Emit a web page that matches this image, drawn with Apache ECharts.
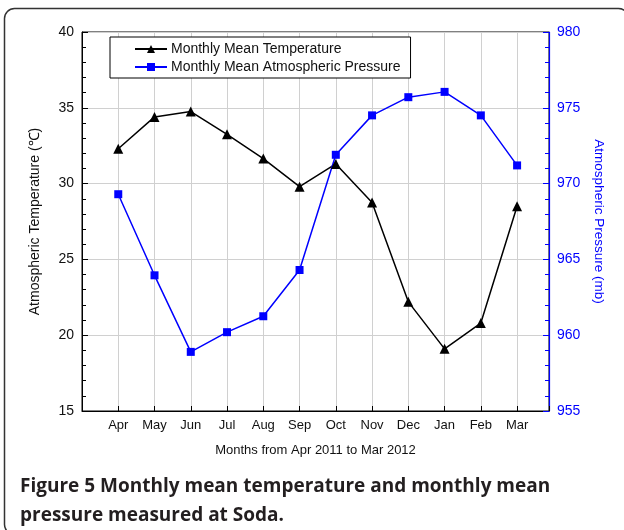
<!DOCTYPE html>
<html>
<head>
<meta charset="utf-8">
<script src="https://cdn.jsdelivr.net/npm/echarts@6/dist/echarts.min.js"></script>
<style>html,body{margin:0;padding:0;background:#fff;}#c{width:624px;height:530px;}</style>
</head>
<body>
<div id="c"></div>
<script>
var months = ['Apr','May','Jun','Jul','Aug','Sep','Oct','Nov','Dec','Jan','Feb','Mar'];
var temperature = [32.3, 34.4, 34.75, 33.25, 31.65, 29.8, 31.3, 28.75, 22.2, 19.1, 20.8, 28.5];
var pressure = [969.3, 963.95, 958.9, 960.2, 961.25, 964.3, 971.9, 974.5, 975.7, 976.05, 974.5, 971.2];
var tempTicks = [15, 20, 25, 30, 35, 40];
var pressTicks = [955, 960, 965, 970, 975, 980];

function pairs(arr){ return arr.map(function(v,i){ return [i+1, v]; }); }

var FONT = '"Liberation Sans", Arial, sans-serif';
var chart = echarts.init(document.getElementById('c'), null, {renderer:'canvas'});
chart.setOption({
  animation: false,
  backgroundColor: '#fff',
  grid: {left: 82, right: 75, top: 32, bottom: 119, show: true, borderColor: '#000', borderWidth: 1, backgroundColor: 'transparent'},
  legend: {
    left: 110, top: 37, orient: 'vertical',
    padding: [5, 10, 4, 24], itemGap: 4, itemWidth: 32, itemHeight: 10,
    borderColor: '#000', borderWidth: 1, backgroundColor: '#fff',
    textStyle: {fontFamily: FONT, fontSize: 14, color: '#111', padding: [0,0,0,-1]},
    data: ['Monthly Mean Temperature', 'Monthly Mean Atmospheric Pressure']
  },
  xAxis: {
    type: 'value', min: 0, max: 12.88, interval: 1,
    name: 'Months from Apr 2011 to Mar 2012', nameLocation: 'middle', nameGap: 33,
    nameTextStyle: {fontFamily: FONT, fontSize: 13, color: '#111'},
    axisLine: {lineStyle: {color: '#000', width: 1}},
    axisTick: {inside: true, length: 5, lineStyle: {color: '#000'}},
    axisLabel: {fontFamily: FONT, fontSize: 13, color: '#111', margin: 8,
      formatter: function(v){ var i = Math.round(v); return (Math.abs(v-i) < 1e-6 && i >= 1 && i <= 12) ? months[i-1] : ''; }},
    splitLine: {show: true, lineStyle: {color: '#d0d0d0', width: 1}}
  },
  yAxis: [{
    type: 'value', min: tempTicks[0], max: tempTicks[tempTicks.length-1], interval: 5, position: 'left',
    name: 'Atmospheric Temperature (\u2103)', nameLocation: 'middle', nameGap: 40,
    nameTextStyle: {fontFamily: FONT, fontSize: 14, color: '#111'},
    axisLine: {show: true, lineStyle: {color: '#000'}},
    axisTick: {inside: true, length: 6, lineStyle: {color: '#000'}},
    minorTick: {show: true, splitNumber: 5, length: 4, lineStyle: {color: '#000'}},
    axisLabel: {fontFamily: FONT, fontSize: 14, color: '#111', margin: 8},
    splitLine: {show: true, lineStyle: {color: '#d0d0d0', width: 1}}
  }, {
    type: 'value', min: pressTicks[0], max: pressTicks[pressTicks.length-1], interval: 5, position: 'right',
    name: 'Atmospheric Pressure (mb)', nameLocation: 'middle', nameGap: 41, nameRotate: -90,
    nameTextStyle: {fontFamily: FONT, fontSize: 13.5, color: '#0000ff'},
    axisLine: {show: true, lineStyle: {color: '#0000ff', width: 1.2}},
    axisTick: {inside: true, length: 6, lineStyle: {color: '#0000ff'}},
    minorTick: {show: true, splitNumber: 5, length: 4, lineStyle: {color: '#0000ff'}},
    axisLabel: {fontFamily: FONT, fontSize: 14, color: '#0000ff', margin: 8},
    splitLine: {show: false}
  }],
  series: [{
    name: 'Monthly Mean Temperature', type: 'line', yAxisIndex: 0,
    data: pairs(temperature), symbol: 'triangle', symbolSize: 10,
    lineStyle: {color: '#000', width: 1.5}, itemStyle: {color: '#000'}
  }, {
    name: 'Monthly Mean Atmospheric Pressure', type: 'line', yAxisIndex: 1,
    data: pairs(pressure), symbol: 'rect', symbolSize: 8,
    lineStyle: {color: '#0000ff', width: 1.5}, itemStyle: {color: '#0000ff'}
  }],
  graphic: [{
    type: 'rect', shape: {x: 4.5, y: 8.5, width: 624, height: 526, r: 10},
    style: {fill: 'none', stroke: '#333', lineWidth: 1.5}, silent: true, z: -1
  }, {
    type: 'text', left: 20, top: 477,
    style: {text: 'Figure 5 Monthly mean temperature and monthly mean', fontFamily: '"Open Sans", "Noto Sans", sans-serif', fontWeight: 'bold', fontSize: 19, fill: '#231f20'}
  }, {
    type: 'text', left: 20, top: 506,
    style: {text: 'pressure measured at Soda.', fontFamily: '"Open Sans", "Noto Sans", sans-serif', fontWeight: 'bold', fontSize: 19, fill: '#231f20'}
  }]
});
</script>
</body>
</html>
